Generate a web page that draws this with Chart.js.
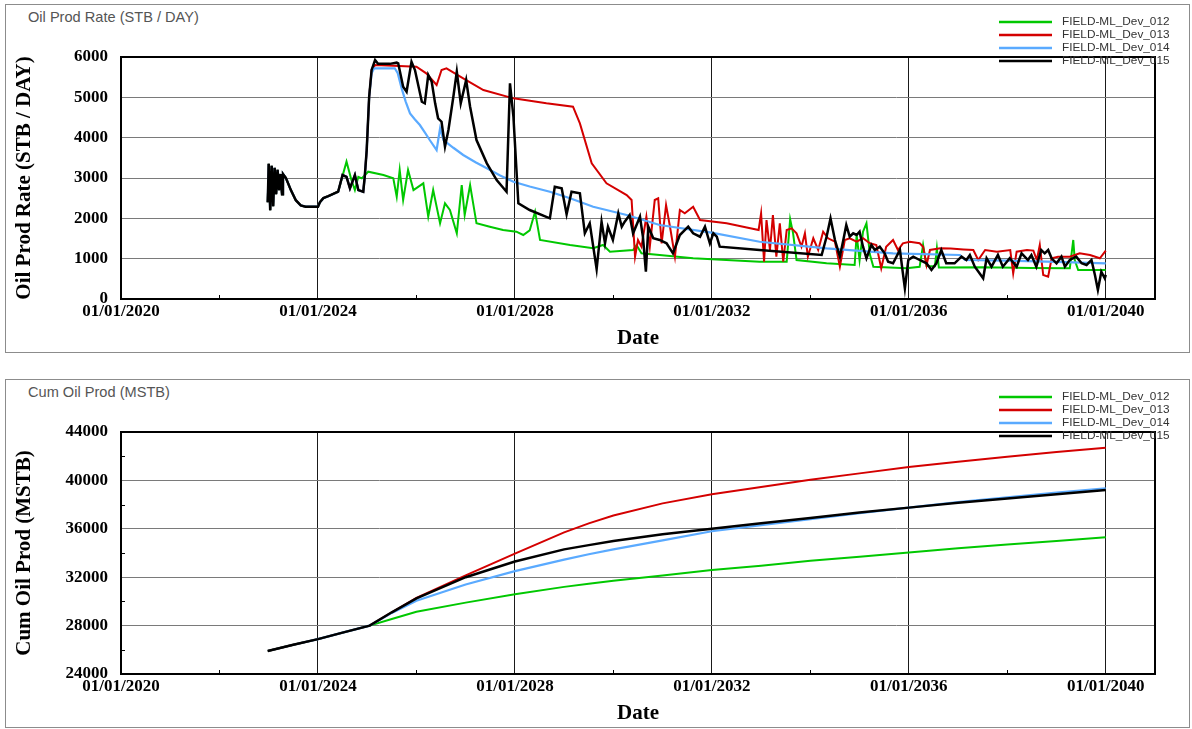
<!DOCTYPE html>
<html>
<head>
<meta charset="utf-8">
<title>FIELD-ML forecast</title>
<script src="https://cdn.jsdelivr.net/npm/chart.js@4.4.1/dist/chart.umd.min.js"></script>
<style>
  html, body { margin: 0; padding: 0; background: #fff; }
  body { width: 1192px; height: 729px; position: relative; overflow: hidden; }
  .painel { position: absolute; left: 5px; width: 1183px; height: 347px; border: 1px solid #8c8c8c; }
  .titulo { position: absolute; left: 28px; font: 14.6px "Liberation Sans", Arial, sans-serif; color: #555; }
  canvas { position: absolute; left: 0; }
</style>
</head>
<body>
<div class="painel" style="top:4px"></div>
<div class="painel" style="top:379px"></div>
<div class="titulo" style="top:9px">Oil Prod Rate (STB / DAY)</div>
<div class="titulo" style="top:384px">Cum Oil Prod (MSTB)</div>
<canvas id="rateChart" width="1192" height="354" style="top:0"></canvas>
<canvas id="cumChart" width="1192" height="354" style="top:375px"></canvas>

<script>
// Series names, colours and line widths
const casos = ['FIELD-ML_Dev_012', 'FIELD-ML_Dev_013', 'FIELD-ML_Dev_014', 'FIELD-ML_Dev_015'];
const cores = ['#00c800', '#d40000', '#5aaaff', '#000000'];
const espessuras = [2, 2, 2.2, 2.5];

// Oil rate history shared by all cases (decimal years, STB/day)
const histAnos = [2022.98, 2023.00, 2023.03, 2023.06, 2023.09, 2023.12, 2023.15, 2023.18, 2023.21, 2023.24, 2023.27, 2023.29,
  2023.35, 2023.45, 2023.55, 2023.65, 2023.75, 2024.00, 2024.04, 2024.11, 2024.21, 2024.41];
const histTaxa = [2400, 3350, 2200, 3300, 2300, 3250, 2600, 3200, 2700, 3100, 2600, 3100,
  3000, 2700, 2450, 2320, 2290, 2290, 2400, 2500, 2550, 2660];

// Ramp-up shared by 013, 014 and 015
const rampaAnos = [2024.50, 2024.58, 2024.65, 2024.75, 2024.82, 2024.92, 2024.95, 2024.99, 2025.04];
const rampaTaxa = [3074, 3030, 2744, 3074, 2700, 2660, 3030, 3690, 5015];

// FIELD-ML_Dev_012
const anos012 = [2024.58, 2024.68, 2024.75, 2024.82, 2024.89, 2025.02, 2025.33, 2025.53, 2025.60, 2025.66, 2025.73, 2025.83,
  2025.94, 2026.14, 2026.24, 2026.34, 2026.48, 2026.58, 2026.68, 2026.82, 2026.92, 2026.98, 2027.09, 2027.22, 2027.49,
  2027.76, 2028.03, 2028.17, 2028.30, 2028.41, 2028.51, 2029.12, 2029.59, 2029.79, 2029.93, 2030.40, 2030.47, 2030.57,
  2030.94, 2031.62, 2032.97, 2033.52, 2033.59, 2033.65, 2033.72, 2034.33, 2034.90, 2034.94, 2035.00, 2035.07, 2035.14,
  2035.21, 2035.28, 2035.95, 2036.22, 2036.29, 2036.36, 2036.53, 2036.57, 2036.61, 2037.50, 2038.50, 2039.27, 2039.34,
  2039.37, 2039.44, 2040.00];
const taxa012 = [3405, 2950, 2702, 3030, 2992, 3156, 3074, 2992, 2536, 3198, 2454, 3198,
  2702, 2868, 2040, 2702, 1877, 2372, 2206, 1629, 2826, 2082, 2826, 1877, 1792,
  1711, 1669, 1587, 1700, 2165, 1463, 1339, 1257, 1339, 1174, 1215, 1339, 1133,
  1091, 1009, 925, 925, 1980, 1629, 967, 885, 843, 1587, 960, 1669, 1877,
  1100, 801, 761, 800, 1339, 820, 810, 1257, 780, 790, 770, 760, 1463,
  967, 719, 719];

// FIELD-ML_Dev_013
const anos013 = [2025.09, 2025.16, 2025.53, 2026.00, 2026.20, 2026.41, 2026.51, 2026.61, 2026.95, 2027.36, 2027.97, 2028.64,
  2029.18, 2029.32, 2029.56, 2029.86, 2030.27, 2030.37, 2030.44, 2030.50, 2030.57, 2030.67, 2030.74, 2030.84, 2030.91,
  2030.98, 2031.07, 2031.15, 2031.25, 2031.35, 2031.45, 2031.62, 2031.76, 2032.30, 2032.95, 2033.00, 2033.06, 2033.11,
  2033.18, 2033.24, 2033.31, 2033.38, 2033.45, 2033.52, 2033.62, 2033.72, 2033.82, 2033.89, 2033.95, 2034.06, 2034.16,
  2034.26, 2034.36, 2034.50, 2034.60, 2034.70, 2034.80, 2034.94, 2035.07, 2035.21, 2035.34, 2035.44, 2035.54, 2035.68,
  2035.78, 2035.88, 2036.02, 2036.22, 2036.29, 2036.36, 2036.43, 2036.64, 2036.85, 2037.11, 2037.31, 2037.41, 2037.55,
  2037.79, 2038.06, 2038.12, 2038.19, 2038.40, 2038.53, 2038.60, 2038.66, 2038.73, 2038.83, 2038.90, 2039.03, 2039.27,
  2039.47, 2039.68, 2039.88, 2040.00];
const taxa013 = [5680, 5800, 5780, 5760, 5595, 5305, 5677, 5719, 5471, 5181, 4975, 4851,
  4768, 4355, 3364, 2868, 2578, 2454, 1049, 1463, 1297, 2040, 1297, 2454, 2496,
  1381, 2330, 1792, 1049, 2206, 2124, 2288, 1958, 1877, 1711, 2124, 925, 1958,
  1215, 2082, 1049, 1877, 925, 1711, 1753, 1629, 1297, 1629, 1049, 1505, 1215,
  1669, 1505, 1420, 801, 1463, 1505, 1420, 1505, 1380, 1339, 761, 1297, 1463,
  1215, 1381, 1420, 1381, 1297, 843, 1215, 1257, 1250, 1230, 1215, 967, 1215,
  1174, 1215, 637, 1174, 1215, 1200, 967, 1339, 595, 553, 1009, 1049, 1049,
  1133, 1091, 1009, 1200];

// FIELD-ML_Dev_014
const anos014 = [2025.09, 2025.14, 2025.56, 2025.62, 2025.70, 2025.78, 2025.87, 2025.97, 2026.07, 2026.17, 2026.27, 2026.41,
  2026.48, 2026.55, 2026.75, 2026.95, 2027.20, 2027.43, 2027.70, 2027.97, 2028.30, 2028.71, 2029.12, 2029.59, 2030.27,
  2030.94, 2031.99, 2032.97, 2034.33, 2035.68, 2037.04, 2037.14, 2038.00, 2039.00, 2040.00];
const taxa014 = [5600, 5720, 5720, 5600, 5223, 4900, 4603, 4450, 4313, 4130, 3942, 3694,
  4231, 3942, 3750, 3570, 3390, 3240, 3060, 2908, 2790, 2660, 2496, 2288, 2082,
  1834, 1644, 1420, 1257, 1133, 1091, 967, 950, 920, 885];

// FIELD-ML_Dev_015
const anos015 = [2025.09, 2025.16, 2025.22, 2025.46, 2025.60, 2025.63, 2025.73, 2025.80, 2025.90, 2025.97, 2026.11, 2026.17,
  2026.24, 2026.31, 2026.38, 2026.44, 2026.51, 2026.58, 2026.65, 2026.75, 2026.82, 2026.90, 2027.01, 2027.09, 2027.22,
  2027.43, 2027.63, 2027.83, 2027.90, 2027.97, 2028.07, 2028.30, 2028.71, 2028.81, 2028.95, 2029.05, 2029.15, 2029.32,
  2029.42, 2029.52, 2029.66, 2029.76, 2029.83, 2029.89, 2029.99, 2030.10, 2030.17, 2030.23, 2030.33, 2030.40, 2030.54,
  2030.60, 2030.66, 2030.71, 2030.81, 2030.94, 2031.08, 2031.21, 2031.35, 2031.52, 2031.62, 2031.76, 2031.86, 2031.96,
  2032.03, 2032.10, 2032.16, 2032.97, 2034.23, 2034.33, 2034.41, 2034.50, 2034.60, 2034.67, 2034.73, 2034.80, 2034.87,
  2034.94, 2035.00, 2035.07, 2035.14, 2035.24, 2035.31, 2035.41, 2035.51, 2035.58, 2035.68, 2035.82, 2035.88, 2035.92,
  2035.99, 2036.09, 2036.22, 2036.36, 2036.46, 2036.56, 2036.66, 2036.76, 2036.93, 2037.07, 2037.17, 2037.24, 2037.34,
  2037.51, 2037.58, 2037.68, 2037.81, 2037.91, 2038.05, 2038.19, 2038.29, 2038.42, 2038.49, 2038.59, 2038.69, 2038.76,
  2038.83, 2038.90, 2039.00, 2039.10, 2039.17, 2039.27, 2039.40, 2039.51, 2039.61, 2039.71, 2039.78, 2039.84, 2039.91,
  2039.98, 2040.00];
const taxa015 = [5680, 5925, 5830, 5830, 5860, 5843, 5263, 5140, 5883, 5677, 4891, 4851,
  5553, 5387, 4851, 4480, 4395, 3776, 4190, 5015, 5635, 4851, 5429, 4768, 3942,
  3364, 2950, 2660, 5347, 4519, 2372, 2206, 2000, 2784, 2744, 2100, 2660, 2620,
  1629, 1877, 740, 1916, 1381, 1792, 1463, 2124, 1792, 1916, 2082, 1629, 2040,
  1544, 677, 1792, 1505, 1463, 1381, 1133, 1587, 1792, 1629, 1544, 1792, 1381,
  1629, 1544, 1297, 1215, 1091, 1544, 2000, 1463, 1049, 1463, 1834, 1544, 1629,
  1587, 1669, 1297, 1009, 1339, 1215, 1297, 1133, 925, 885, 1215, 637, 265,
  967, 1049, 967, 885, 719, 885, 1215, 885, 885, 1049, 967, 1091, 801,
  513, 1009, 801, 1091, 801, 1009, 801, 1133, 967, 1091, 801, 1215, 1133,
  1215, 1009, 885, 1049, 801, 967, 1049, 885, 843, 967, 595, 223, 677,
  513, 600];

// Cumulative oil (MSTB)
const cumHistAnos = [2022.98, 2023.5, 2024.0, 2024.5, 2025.05];
const cumHist = [25900, 26420, 26880, 27420, 28000];
const cumAnos = [2025.5, 2026, 2027, 2028, 2029, 2029.5, 2030, 2031, 2032, 2033, 2034, 2035, 2036, 2037, 2038, 2039, 2040];
const cum012 = [28550, 29150, 29900, 30600, 31200, 31450, 31700, 32150, 32600, 32950, 33350, 33700, 34050, 34400, 34700, 35000, 35300];
const cum013 = [29100, 30300, 32150, 33950, 35700, 36450, 37100, 38100, 38850, 39450, 40050, 40580, 41100, 41550, 41950, 42350, 42700];
const cum014 = [29050, 30050, 31400, 32500, 33450, 33900, 34300, 35050, 35800, 36300, 36800, 37300, 37750, 38200, 38600, 39000, 39350];
const cum015 = [29100, 30250, 32000, 33300, 34300, 34650, 35000, 35550, 36000, 36450, 36900, 37350, 37750, 38150, 38500, 38850, 39200];

const fonteSerif = '"Liberation Serif", "Times New Roman", serif';
const fonteSans = '"Liberation Sans", Arial, sans-serif';

document.addEventListener("DOMContentLoaded", function () {
    criarGrafico('rateChart', [
        pontos(histAnos.concat(anos012), histTaxa.concat(taxa012)),
        pontos(histAnos.concat(rampaAnos, anos013), histTaxa.concat(rampaTaxa, taxa013)),
        pontos(histAnos.concat(rampaAnos, anos014), histTaxa.concat(rampaTaxa, taxa014)),
        pontos(histAnos.concat(rampaAnos, anos015), histTaxa.concat(rampaTaxa, taxa015))
    ], 0, 6000, 1000, 'Oil Prod Rate (STB / DAY)');

    criarGrafico('cumChart', [
        pontos(cumHistAnos.concat(cumAnos), cumHist.concat(cum012)),
        pontos(cumHistAnos.concat(cumAnos), cumHist.concat(cum013)),
        pontos(cumHistAnos.concat(cumAnos), cumHist.concat(cum014)),
        pontos(cumHistAnos.concat(cumAnos), cumHist.concat(cum015))
    ], 24000, 44000, 4000, 'Cum Oil Prod (MSTB)');
});

function pontos(anos, valores) {
    return anos.map((a, i) => ({ x: a, y: valores[i] }));
}

// Frame, inner minor ticks and the line legend in the top right corner
const molduraPlugin = {
    id: 'moldura',
    afterDraw(chart) {
        const { ctx, chartArea: a, scales } = chart;
        ctx.save();
        ctx.strokeStyle = '#000';
        ctx.lineWidth = 1;
        ctx.beginPath();
        scales.x.ticks.forEach(t => {
            if (t.label !== '') return;
            const px = Math.round(scales.x.getPixelForValue(t.value)) + 0.5;
            ctx.moveTo(px, a.bottom);
            ctx.lineTo(px, a.bottom - 4);
        });
        scales.y.ticks.forEach(t => {
            if (t.label !== '') return;
            const py = Math.round(scales.y.getPixelForValue(t.value)) + 0.5;
            ctx.moveTo(a.left, py);
            ctx.lineTo(a.left + 4, py);
        });
        ctx.stroke();

        ctx.lineWidth = 2;
        ctx.strokeRect(a.left, a.top, a.right - a.left, a.bottom - a.top);

        ctx.font = '11.8px ' + fonteSans;
        ctx.textBaseline = 'middle';
        chart.data.datasets.forEach((ds, i) => {
            const y = 22 + i * 13;
            ctx.strokeStyle = ds.borderColor;
            ctx.lineWidth = 2.5;
            ctx.beginPath();
            ctx.moveTo(999, y);
            ctx.lineTo(1052, y);
            ctx.stroke();
            ctx.fillStyle = '#333';
            ctx.fillText(ds.label, 1062, y);
        });
        ctx.restore();
    }
};

function criarGrafico(id, series, yMin, yMax, passo, tituloY) {
    const fonteTicks = { family: fonteSerif, size: 17, weight: 'bold' };
    const fonteTitulo = { family: fonteSerif, size: 21, weight: 'bold' };

    new Chart(document.getElementById(id), {
        type: 'line',
        data: {
            datasets: series.map((dados, i) => ({
                label: casos[i],
                data: dados,
                borderColor: cores[i],
                borderWidth: espessuras[i],
                pointRadius: 0,
                tension: 0,
                fill: false,
                order: series.length - 1 - i
            }))
        },
        options: {
            responsive: false,
            animation: false,
            devicePixelRatio: 1,
            layout: { padding: { top: 57, right: 37, left: 0, bottom: 0 } },
            plugins: { legend: { display: false }, tooltip: { enabled: false } },
            scales: {
                x: {
                    type: 'linear',
                    min: 2020,
                    max: 2041,
                    afterBuildTicks: s => {
                        s.ticks = [];
                        for (let a = 2020; a <= 2040; a += 2) s.ticks.push({ value: a });
                    },
                    afterFit: s => { s.height = 55; },
                    ticks: {
                        callback: v => v % 4 === 0 ? '01/01/' + v : '',
                        font: fonteTicks,
                        color: '#000',
                        padding: 2,
                        maxRotation: 0,
                        autoSkip: false
                    },
                    grid: {
                        color: c => c.tick && c.tick.value % 4 === 0 ? '#1a1a1a' : 'rgba(0,0,0,0)',
                        drawTicks: false,
                        lineWidth: 1
                    },
                    border: { display: false },
                    title: { display: true, text: 'Date', font: fonteTitulo, color: '#000', padding: { top: 0, bottom: 3 } }
                },
                y: {
                    type: 'linear',
                    min: yMin,
                    max: yMax,
                    afterBuildTicks: s => {
                        s.ticks = [];
                        for (let v = yMin; v <= yMax; v += passo / 2) s.ticks.push({ value: v });
                    },
                    afterFit: s => { s.width = 121; },
                    ticks: {
                        callback: v => v % passo === 0 ? String(v) : '',
                        font: fonteTicks,
                        color: '#000',
                        padding: 13
                    },
                    grid: {
                        color: c => c.tick && c.tick.value % passo === 0 ? '#7a7a7a' : 'rgba(0,0,0,0)',
                        drawTicks: false,
                        lineWidth: 1
                    },
                    border: { display: false },
                    title: { display: true, text: tituloY, font: fonteTitulo, color: '#000', padding: { top: 12, bottom: 0 } }
                }
            }
        },
        plugins: [molduraPlugin]
    });
}
</script>
</body>
</html>
